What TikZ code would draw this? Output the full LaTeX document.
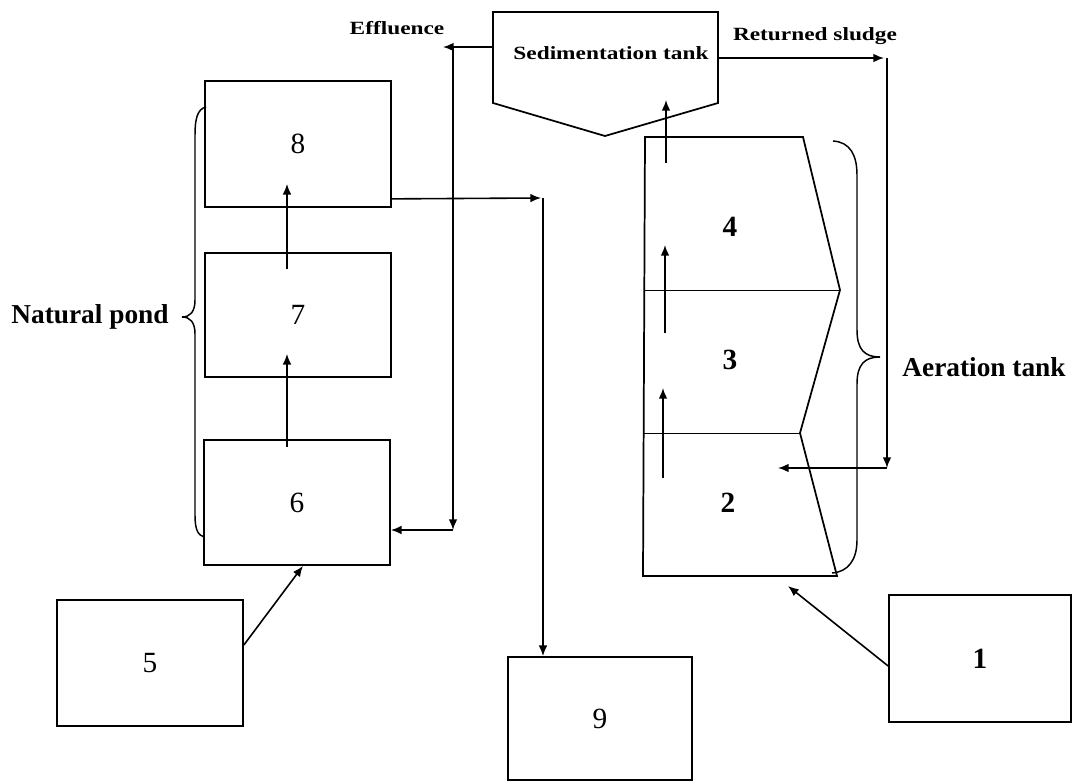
\documentclass[tikz,border=0pt]{standalone}
\usepackage{fontspec}
\setmainfont{Liberation Serif}
\usetikzlibrary{arrows.meta}
\begin{document}
\begin{tikzpicture}[x=0.75pt,y=-0.75pt,
  box/.style={draw,line width=1.3pt,inner sep=0pt},
  sz/.style 2 args={minimum width=#1*0.75pt,minimum height=#2*0.75pt},
  arr/.style={line width=1.2pt,-{Latex[length=8pt,width=6.5pt]}},
  ln/.style={line width=1.3pt},
  thinln/.style={line width=0.7pt},
  num/.style={font=\fontsize{22}{22}\selectfont},
  bnum/.style={font=\fontsize{22}{22}\selectfont\bfseries},
  small/.style={font=\fontsize{14}{14}\selectfont\bfseries,inner sep=0pt},
  big/.style={font=\fontsize{20.5}{20.5}\selectfont\bfseries,inner sep=0pt},
  brace/.style={line width=1.1pt}]
\useasboundingbox (0,0) rectangle (1072,782);

% left column boxes
\node[box,sz={186}{126},num] (b8) at (298,144) {8};
\node[box,sz={186}{124},num] (b7) at (298,315) {7};
\node[box,sz={186}{125},num] (b6) at (297,502.5) {6};
\node[box,sz={186}{126},num] (b5) at (150,663) {5};
\node[box,sz={184}{123},num] (b9) at (600,718.5) {9};
\node[box,sz={182}{127},bnum] (b1) at (980,658.5) {1};

% sedimentation tank
\coordinate (S1) at (493,12);
\coordinate (S2) at (718,12);
\coordinate (S3) at (718,103);
\coordinate (S4) at (605,136);
\coordinate (S5) at (493,103);
\draw[ln] (S1) -- (S2) -- (S3) -- (S4) -- (S5) -- cycle;
\node[small] (sed) at (611,53) {\scalebox{1.25}[1]{Sedimentation tank}};

% aeration tank
\coordinate (A1) at (645,137);
\coordinate (A2) at (803,137);
\coordinate (A3) at (840,290);
\coordinate (A4) at (800,433);
\coordinate (A5) at (837,576);
\coordinate (A6) at (643,576);
\coordinate (L3) at (645,290);
\coordinate (L2) at (644,433);
\draw[ln] (A1) -- (A2) -- (A3) -- (A4) -- (A5) -- (A6) -- cycle;
\draw[thinln] (L3) -- (A3);
\draw[thinln] (L2) -- (A4);
\node[bnum] (t4) at (730,227) {4};
\node[bnum] (t3) at (730,360) {3};
\node[bnum] (t2) at (728,503) {2};

% arrows inside aeration tank
\coordinate (u1s) at (666,163);
\coordinate (u1e) at (666,100);
\coordinate (u2s) at (665,333);
\coordinate (u2e) at (665,245);
\coordinate (u3s) at (663,478);
\coordinate (u3e) at (663,388);
\draw[arr] (u1s) -- (u1e);
\draw[arr] (u2s) -- (u2e);
\draw[arr] (u3s) -- (u3e);

% arrows in natural pond
\draw[arr] ([shift={(-11,17)}]b7.north) -- ([shift={(-11,-24)}]b8.south);
\draw[arr] ([shift={(-10,8)}]b6.north) -- ([shift={(-11,-24)}]b7.south);

% effluence
\coordinate (e0) at (493,47);
\coordinate (e1) at (443,47);
\coordinate (e2) at (453,47);
\coordinate (e3) at (453,530);
\draw[arr] (e0) -- (e1);
\draw[arr] (e2) -- (e3);
\draw[arr] (e3) -- (e3 -| b6.east);
\node[small] (efl) at (397,28) {\scalebox{1.25}[1]{Effluence}};

% returned sludge
\coordinate (r0) at (718,58);
\coordinate (r1) at (884,58);
\coordinate (r2) at (887,58);
\coordinate (r3) at (887,468);
\coordinate (r4) at (778,468);
\draw[arr] (r0) -- (r1);
\draw[arr] (r2) -- (r3);
\draw[arr] (r3) -- (r4);
\node[small] (rsl) at (815,36) {\scalebox{1.25}[1]{Returned sludge}};

% 8 -> 9
\coordinate (j0) at (541,198);
\coordinate (j1) at (543,198);
\draw[arr] ([shift={(0,-9)}]b8.south east) -- (j0);
\draw[arr] (j1) -- (j1 |- b9.north);

% 5 -> 6
\draw[arr] ([shift={(0,-18)}]b5.east) -- ([shift={(6,0)}]b6.south);

% 1 -> aeration tank
\coordinate (in1) at (788,586);
\draw[arr] ([shift={(0,7.5)}]b1.west) -- (in1);

% braces
\draw[brace] (206,107) .. controls (197,109) and (195,120) .. (195,135)
  -- (195,300) .. controls (195,312) and (190,317) .. (182,317)
  .. controls (190,317) and (195,322) .. (195,334)
  -- (195,515) .. controls (195,530) and (198,535) .. (204,537);
\draw[brace] (833,141) .. controls (850,142) and (857,155) .. (857,175)
  -- (857,330) .. controls (857,350) and (865,357) .. (880,357)
  .. controls (865,357) and (857,364) .. (857,384)
  -- (857,540) .. controls (857,560) and (848,572) .. (832,573);

\node[big] (np) at (90,317) {Natural pond};
\node[big] (at) at (984,367) {Aeration tank};
\end{tikzpicture}
\end{document}
